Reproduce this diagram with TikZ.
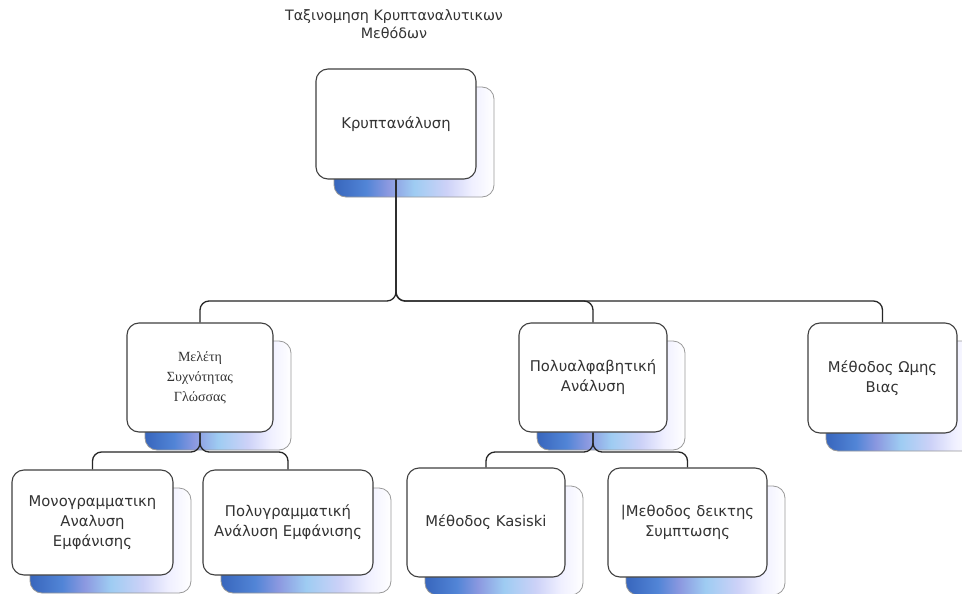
\documentclass[tikz,border=0pt]{standalone}
\usepackage{fontspec}
\setmainfont{DejaVu Sans}
\newfontfamily\serifgr{Liberation Serif}
\usetikzlibrary{calc}

% colour band along the bottom of each back plate: deep blue fading to white
% (the path box spans 25bp..75bp of the shading)
\pgfdeclarehorizontalshading{plateshade}{100bp}{%
  rgb(0bp)=(0.22,0.40,0.74);
  rgb(25bp)=(0.22,0.40,0.74);
  rgb(35bp)=(0.32,0.52,0.84);
  rgb(42bp)=(0.55,0.60,0.88);
  rgb(50bp)=(0.62,0.80,0.95);
  rgb(60bp)=(0.80,0.82,0.97);
  rgb(68bp)=(0.94,0.94,1.0);
  rgb(75bp)=(1,1,1);
  rgb(100bp)=(1,1,1)}

\tikzset{
  plate/.style={draw=black!40, line width=0.8pt, rounded corners=12pt, shading=plateshade},
  card/.style={draw=black!75, line width=1.1pt, fill=white, rounded corners=12pt,
    align=center, inner sep=2pt, text=black!80, font=\fontsize{14.8}{20}\selectfont},
  link/.style={draw=black!85, line width=1.3pt, rounded corners=9pt},
}

% \tierbox{name}{x}{y}{width}{height}{text}: back plate plus front card
\newcommand\tierbox[6]{%
  \path[plate] ($(#2,#3)+(18-#4/2,18-#5/2)$) rectangle ($(#2,#3)+(18+#4/2,18+#5/2)$);
  \node[card, minimum width=#4pt, minimum height=#5pt] (#1) at (#2,#3) {#6};
}

\begin{document}
\begin{tikzpicture}[x=1pt,y=-1pt]
  \useasboundingbox[fill=white] (0,0) rectangle (962,594);
  \begin{scope}
  \clip (0,0) rectangle (962,594);

  \node[align=center, text=black!80, font=\fontsize{14.3}{18}\selectfont] (title) at (394,24)
    {Ταξινομηση Κρυπταναλυτικων\\Μεθόδων};

  \tierbox{root}{396}{124}{160}{110}{Κρυπτανάλυση}
  \tierbox{freq}{200}{377.5}{146}{109}{\serifgr\fontsize{14}{19}\selectfont Μελέτη\\\serifgr\fontsize{14}{19}\selectfont Συχνότητας\\\serifgr\fontsize{14}{19}\selectfont Γλώσσας}
  \tierbox{poly}{593}{377.5}{148}{109}{Πολυαλφαβητική\\Ανάλυση}
  \tierbox{brute}{882.5}{378}{149}{110}{Μέθοδος Ωμης\\Βιας}
  \tierbox{mono}{92.5}{522.5}{161}{105}{Μονογραμματικη\\Αναλυση\\Εμφάνισης}
  \tierbox{multi}{288}{522.5}{170}{105}{Πολυγραμματική\\Ανάλυση Εμφάνισης}
  \tierbox{kasiski}{486}{522.5}{158}{109}{Μέθοδος Kasiski}
  \tierbox{coinc}{687.5}{522.5}{159}{109}{|Μεθοδος δεικτης\\Συμπτωσης}

  % branching buses
  \coordinate (bus0) at (root.south |- 0,301);
  \coordinate (bus1) at (freq.south |- 0,452);
  \coordinate (bus2) at (poly.south |- 0,452);

  \draw[link] (root.south) -- (bus0) -| (freq.north);
  \draw[link] (root.south) -- (bus0) -| (poly.north);
  \draw[link] (root.south) -- (bus0) -| (brute.north);

  \draw[link] (freq.south) -- (bus1) -| (mono.north);
  \draw[link] (freq.south) -- (bus1) -| (multi.north);

  \draw[link] (poly.south) -- (bus2) -| (kasiski.north);
  \draw[link] (poly.south) -- (bus2) -| (coinc.north);
  \end{scope}
\end{tikzpicture}
\end{document}
